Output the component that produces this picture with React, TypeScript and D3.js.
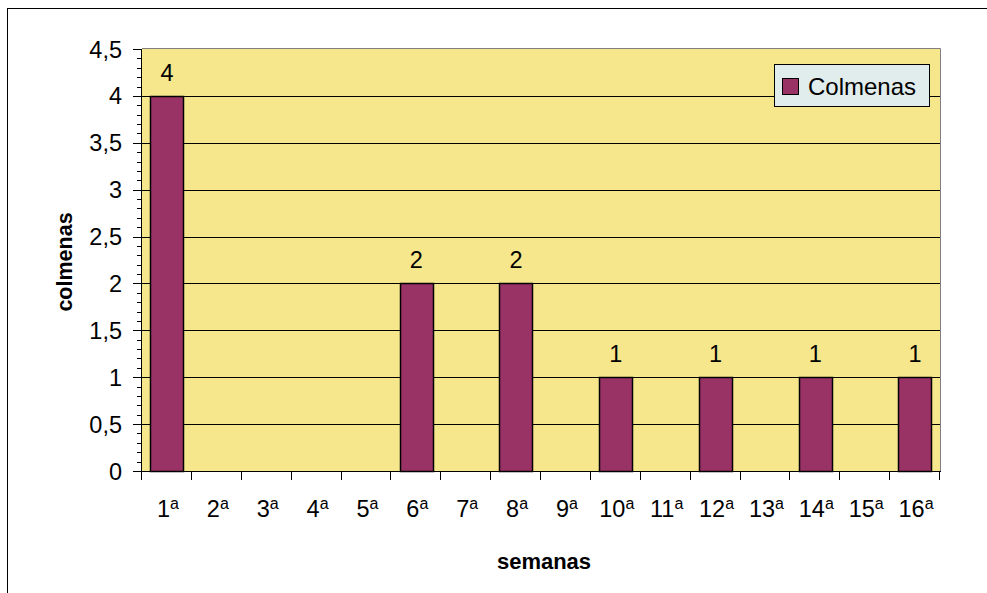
import React from "react";
import * as d3 from "d3";

const semanas = ["1", "2", "3", "4", "5", "6", "7", "8", "9", "10", "11", "12", "13", "14", "15", "16"];
const ordinalMark = "a";
const colmenas = [4, 0, 0, 0, 0, 2, 0, 2, 0, 1, 0, 1, 0, 1, 0, 1];
const yTicks = [0, 0.5, 1, 1.5, 2, 2.5, 3, 3.5, 4, 4.5];
const seriesName = "Colmenas";

const W = 987;
const H = 593;
const plot = { left: 142, top: 49, right: 940, bottom: 471 };
const FONT = "'Liberation Sans', Arial, sans-serif";
const BAR = "#993366";
const PLOT_BG = "#F6E78D";
const LABEL_SIZE = 23.5;

export default function App() {
  const x = d3
    .scaleBand<string>()
    .domain(semanas)
    .range([plot.left, plot.right])
    .paddingInner(1 / 3)
    .paddingOuter(1 / 6);
  const step = x.step();
  const y = d3.scaleLinear().domain([0, 4.5]).range([plot.bottom, plot.top]);
  const minor = d3.range(0, 46).map((i) => i / 10);
  const fmt = (v: number) => String(v).replace(".", ",");

  return (
    <div style={{ position: "absolute", left: 0, top: 0, width: W, height: H }}>
      <svg width={W} height={H} style={{ display: "block", fontFamily: FONT }}>
        <rect x={0} y={0} width={W} height={H} fill="#fff" />
        {/* chart area frame */}
        <rect x={7.5} y={8.5} width={W + 20} height={H + 20} fill="none" stroke="#000" strokeWidth={1} />

        {/* plot area */}
        <rect x={plot.left} y={plot.top} width={plot.right - plot.left} height={plot.bottom - plot.top} fill={PLOT_BG} />
        <line x1={plot.left} x2={plot.right + 0.5} y1={plot.top - 0.5} y2={plot.top - 0.5} stroke="#808080" />
        <line x1={plot.right + 0.5} x2={plot.right + 0.5} y1={plot.top - 0.5} y2={plot.bottom} stroke="#808080" />

        {/* gridlines */}
        {yTicks.slice(1, -1).map((t) => (
          <line key={t} x1={plot.left} x2={plot.right} y1={Math.round(y(t)) + 0.5} y2={Math.round(y(t)) + 0.5} stroke="#000" />
        ))}

        {/* bars */}
        {colmenas.map((v, i) =>
          v > 0 ? (
            <rect
              key={i}
              x={Math.round(x(semanas[i])!) + 0.5}
              y={Math.round(y(v)) + 0.5}
              width={Math.round(x.bandwidth())}
              height={Math.round(y(0)) - Math.round(y(v))}
              fill={BAR}
              stroke="#000"
              strokeWidth={1.5}
            />
          ) : null
        )}

        {/* value labels */}
        {colmenas.map((v, i) =>
          v > 0 ? (
            <text key={i} x={x(semanas[i])! + x.bandwidth() / 2} y={y(v) - 15} textAnchor="middle" fontSize={LABEL_SIZE} fill="#000">
              {v}
            </text>
          ) : null
        )}

        {/* y axis */}
        <line x1={plot.left - 0.5} x2={plot.left - 0.5} y1={plot.top} y2={plot.bottom + 1} stroke="#000" />
        {minor.map((m) => (
          <line key={m} x1={plot.left - 5} x2={plot.left} y1={Math.round(y(m)) + 0.5} y2={Math.round(y(m)) + 0.5} stroke="#000" />
        ))}
        {yTicks.map((t) => (
          <g key={t}>
            <line x1={plot.left - 9} x2={plot.left} y1={Math.round(y(t)) + 0.5} y2={Math.round(y(t)) + 0.5} stroke="#000" />
            <text x={122} y={y(t) + 8.5} textAnchor="end" fontSize={LABEL_SIZE} fill="#000">
              {fmt(t)}
            </text>
          </g>
        ))}

        {/* x axis */}
        <line x1={plot.left} x2={plot.right + 1} y1={plot.bottom + 0.5} y2={plot.bottom + 0.5} stroke="#000" />
        {d3.range(semanas.length + 1).map((i) => (
          <line
            key={i}
            x1={Math.round(plot.left + i * step) - 0.5}
            x2={Math.round(plot.left + i * step) - 0.5}
            y1={plot.bottom}
            y2={plot.bottom + 9}
            stroke="#000"
          />
        ))}
        {semanas.map((s) => (
          <text key={s} x={x(s)! + x.bandwidth() / 2 + 1} y={517} textAnchor="middle" fontSize={LABEL_SIZE} fill="#000">
            {s}
            <tspan dy={-8} fontSize={16}>
              {ordinalMark}
            </tspan>
          </text>
        ))}

        {/* axis titles */}
        <text x={544} y={569} textAnchor="middle" fontSize={22} fontWeight="bold" fill="#000">
          semanas
        </text>
        <text transform="translate(72,262) rotate(-90)" textAnchor="middle" fontSize={21.5} fontWeight="bold" fill="#000">
          colmenas
        </text>

        {/* legend */}
        <rect x={774.5} y={64.5} width={155} height={42} fill="#E1ECEC" stroke="#000" />
        <rect x={782.5} y={78.5} width={16} height={16} fill={BAR} stroke="#000" />
        <text x={808} y={95} fontSize={24} fill="#000">
          {seriesName}
        </text>
      </svg>
    </div>
  );
}
